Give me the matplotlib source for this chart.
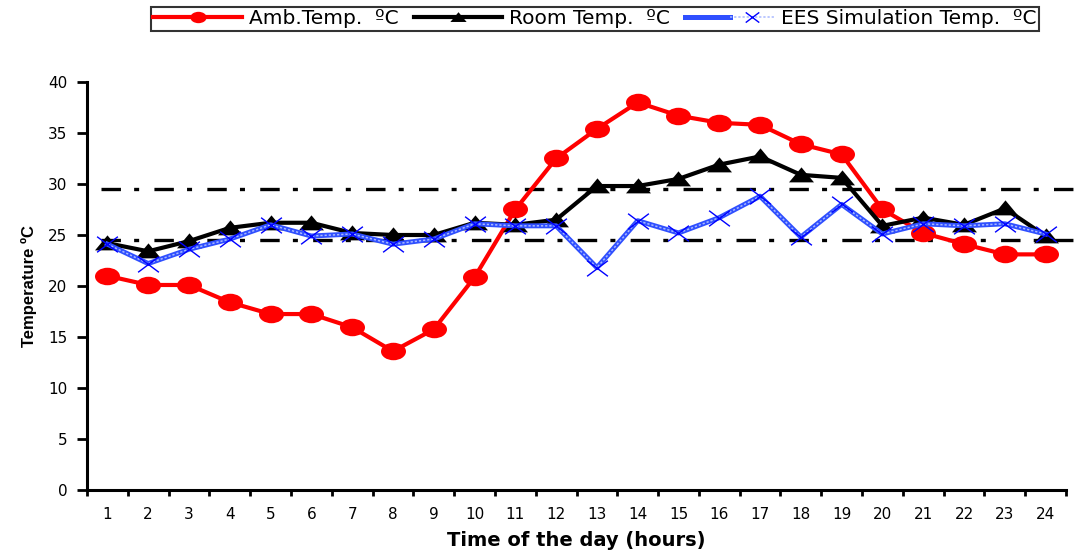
import matplotlib
matplotlib.use("Agg")
import matplotlib.pyplot as plt
import numpy as np
from matplotlib.path import Path
from matplotlib.transforms import Affine2D
from matplotlib.legend_handler import HandlerTuple

plt.rcParams['font.family'] = ['DejaVu Sans']
plt.rcParams['lines.scale_dashes'] = False

hours = list(range(1, 25))
amb_temp = [21.0, 20.1, 20.1, 18.4, 17.25, 17.25, 15.95, 13.6, 15.75, 20.85, 27.5, 32.5,
            35.4, 38.0, 36.7, 36.0, 35.8, 33.9, 32.9, 27.5, 25.2, 24.1, 23.1, 23.1]
room_temp = [24.2, 23.4, 24.4, 25.7, 26.2, 26.2, 25.2, 25.0, 25.0, 26.2, 26.0, 26.5,
             29.8, 29.8, 30.5, 31.9, 32.7, 30.9, 30.6, 25.9, 26.7, 26.0, 27.6, 24.9]
ees_temp = [24.1, 22.2, 23.6, 24.6, 26.0, 24.9, 25.1, 24.1, 24.6, 26.1, 25.9, 25.9,
            21.8, 26.4, 25.2, 26.7, 28.8, 24.8, 28.0, 25.1, 26.1, 25.9, 26.1, 25.1]
comfort_limits = [29.5, 24.5]
yticks = list(range(0, 41, 5))

fig = plt.figure(figsize=(10.92, 5.54), dpi=100)
ax = fig.add_axes([87/1092, 1-490/554, (1066-87)/1092, (490-82)/554])

x = np.array(hours)

# stretched marker shapes (the reference is horizontally stretched)
ellipse = Path.unit_circle().transformed(Affine2D().scale(1.0, 0.70))
tri = Path([(-1, -0.55), (1, -0.55), (0, 0.65), (-1, -0.55)],
           [Path.MOVETO, Path.LINETO, Path.LINETO, Path.CLOSEPOLY])
xmark = Path([(-1, -0.75), (1, 0.75), (-1, 0.75), (1, -0.75)],
             [Path.MOVETO, Path.LINETO, Path.MOVETO, Path.LINETO])

# comfort band reference lines
for lim in comfort_limits:
    ax.plot([0.85, 24.7], [lim, lim], color='black', lw=2.4,
            linestyle=(0, (14, 9.5, 3.6, 11)), clip_on=False, zorder=2)

l_amb, = ax.plot(x, amb_temp, color='#ff0000', lw=3.0, marker=ellipse,
                 markersize=18, markeredgewidth=0, zorder=3)
l_room, = ax.plot(x, room_temp, color='black', lw=3.0, marker=tri,
                  markersize=18, markeredgewidth=0, zorder=4)
l_ees_bg, = ax.plot(x, ees_temp, color='#2f4fff', lw=3.6, zorder=5)
l_ees, = ax.plot(x, ees_temp, color='#a8b8ff', lw=1.1, linestyle=(0, (1.6, 1.4)),
                 marker=xmark, markersize=15, markeredgewidth=1.0,
                 markeredgecolor='#0000ff', zorder=6)

ax.set_xlim(0.5, 24.5)
ax.set_ylim(0, 40)
ax.set_yticks(yticks)
ax.set_xticks(np.arange(0.5, 25, 1))
ax.set_xticklabels([])
ax.set_xticks(x, minor=True)
ax.set_xticklabels([str(h) for h in hours], minor=True)
ax.tick_params(axis='x', which='major', direction='out', length=4, width=2)
ax.tick_params(axis='x', which='minor', length=0, pad=12, labelsize=11)
ax.tick_params(axis='y', direction='out', length=7, width=2, labelsize=11, pad=7)

for s in ['top', 'right']:
    ax.spines[s].set_visible(False)
for s in ['left', 'bottom']:
    ax.spines[s].set_linewidth(2.2)

ax.set_xlabel('Time of the day (hours)', fontsize=14, fontweight='bold', labelpad=7)
ax.set_ylabel('Temperature ºC', fontsize=12, fontweight='bold', labelpad=8,
              family='Liberation Sans')

leg = fig.legend([l_amb, (l_room,), (l_ees_bg, l_ees)],
                 ['Amb.Temp.  ºC', 'Room Temp.  ºC', 'EES Simulation Temp.  ºC'],
                 handler_map={tuple: HandlerTuple(ndivide=None, pad=0)},
                 loc='center', bbox_to_anchor=(595/1092, 1-19/554), ncol=3,
                 fontsize=14.5, frameon=True, fancybox=False, handlelength=4.4,
                 handletextpad=0.35, columnspacing=0.75, borderpad=0.1,
                 borderaxespad=0, markerscale=0.65)
leg.get_frame().set_edgecolor('black')
leg.get_frame().set_linewidth(1.5)

fig.savefig('out.png', dpi=100)
